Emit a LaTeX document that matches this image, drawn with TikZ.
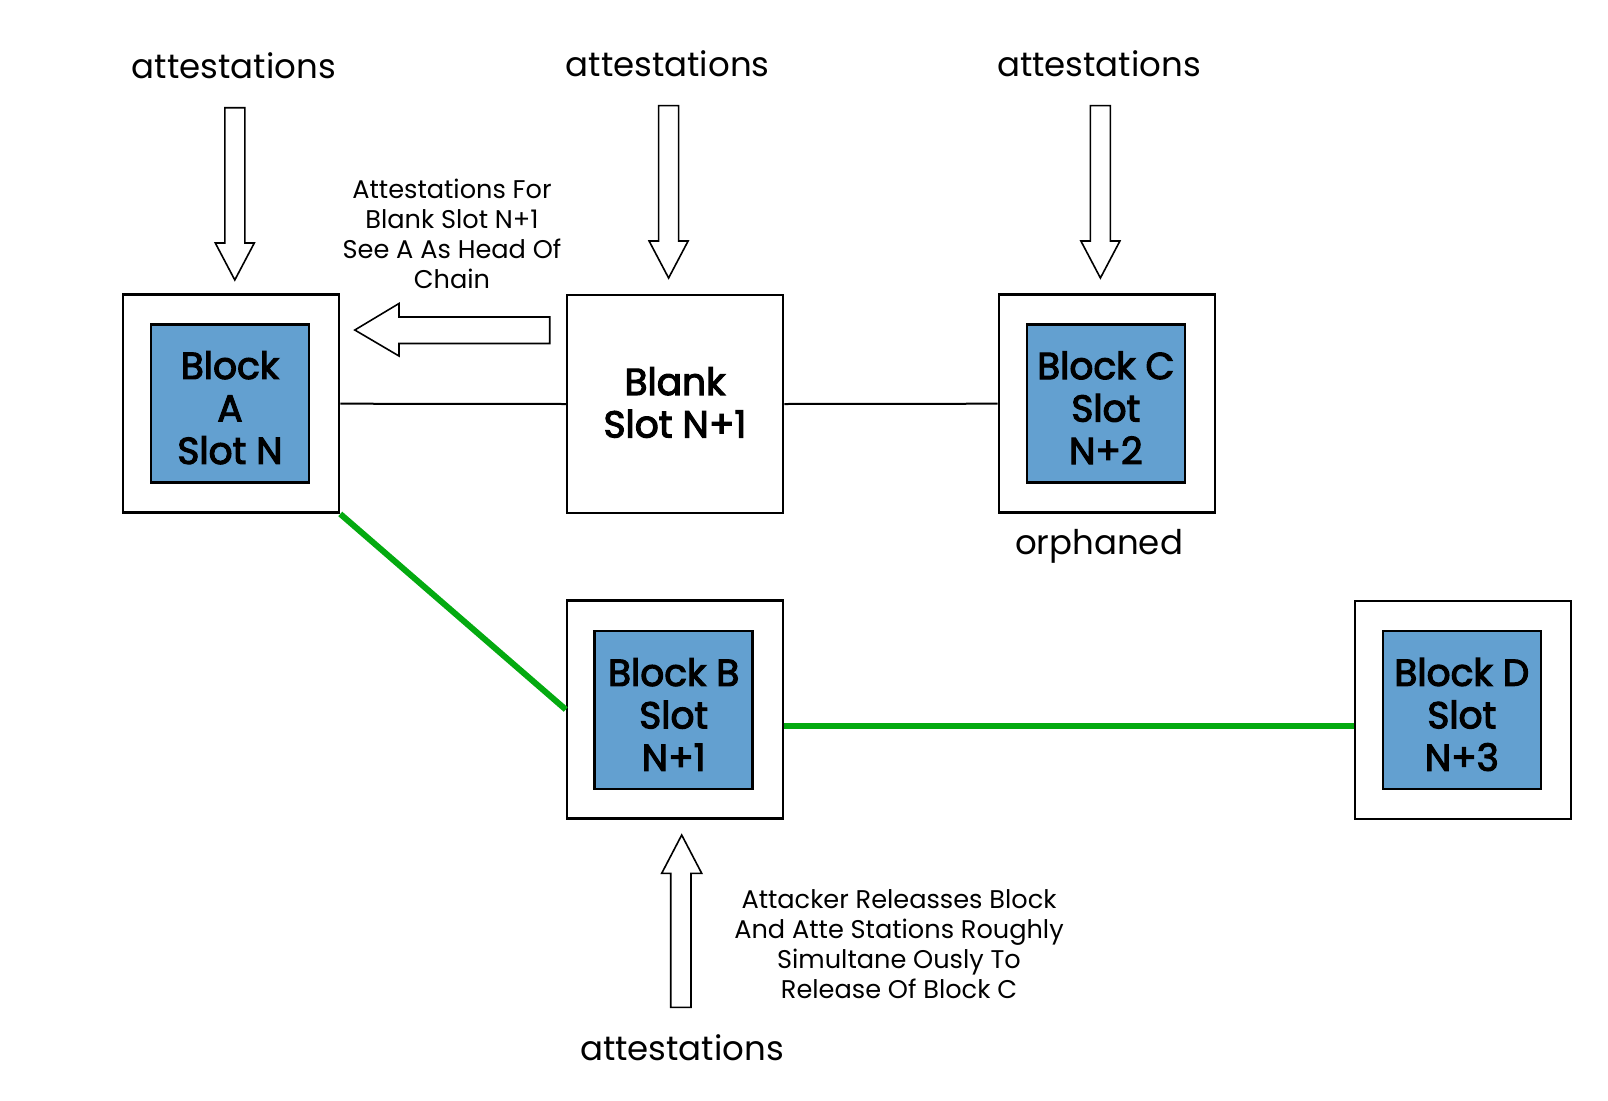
\documentclass[tikz,border=0pt]{standalone}
\usepackage{fontspec}
\setmainfont{Poppins}
\newfontfamily\blockfont{Poppins}[FakeBold=3]
\usetikzlibrary{calc}
\definecolor{blockblue}{RGB}{99,160,208}
\definecolor{chaingreen}{RGB}{4,170,16}
\tikzset{
  outerbox/.style={draw=black, line width=2.5pt, fill=white, minimum width=216pt, minimum height=218pt, inner sep=0pt},
  innerbox/.style={draw=black, line width=2.5pt, fill=blockblue, minimum width=158pt, minimum height=158pt, inner sep=0pt},
  blocklabel/.style={align=center, font=\blockfont\fontsize{37.5}{42.5}\selectfont},
  biglabel/.style={font=\fontsize{34}{40}\selectfont},
  smalllabel/.style={align=center, font=\fontsize{25.6}{30}\selectfont},
  blockarrow/.style={draw=black, line width=1.6pt, fill=white, line join=miter},
  link/.style={draw=black, line width=2pt},
  greenlink/.style={draw=chaingreen, line width=6pt}
}
\begin{document}
\begin{tikzpicture}[x=1pt,y=-1pt]
\useasboundingbox (0,0) rectangle (1608,1100);
% boxes
\node[outerbox] (A) at (231,403.7) {};
\node[innerbox] (Ai) at (230,403.7) {};
\node[blocklabel] (At) at (230,407.7) {Block\\A\\Slot N};
\node[outerbox] (Bl) at (675,404) {};
\node[blocklabel] (Blt) at (675,402.5) {Blank\\Slot N+1};
\node[outerbox] (C) at (1106.8,403.7) {};
\node[innerbox] (Ci) at (1105.8,403.5) {};
\node[blocklabel] (Ct) at (1105.8,407.7) {Block C\\Slot\\N+2};
\node[outerbox] (B) at (675,709.5) {};
\node[innerbox] (Bi) at (673.7,710) {};
\node[blocklabel] (Bt) at (673.7,714.5) {Block B\\Slot\\N+1};
\node[outerbox] (D) at (1462.8,709.8) {};
\node[innerbox] (Di) at (1461.8,710) {};
\node[blocklabel] (Dt) at (1461.8,714.5) {Block D\\Slot\\N+3};
% connectors
\draw[link] (A.east) -- (Bl.west);
\draw[link] (Bl.east) -- (C.west);
\draw[greenlink] (A.south east) -- (B.west);
\draw[greenlink] ($(B.east)+(0,16.2)$) coordinate (g1) -- (g1 -| D.west);
% labels
\node[biglabel] (t1) at (233.8,65.6) {attestations};
\node[biglabel] (t2) at (667.6,63.6) {attestations};
\node[biglabel] (t3) at (1099,63.6) {attestations};
\node[biglabel] (t4) at (682,1048) {attestations};
\node[biglabel] (orph) at (1099,546.6) {orphaned};
\node[smalllabel] (n1) at (452,233.5) {Attestations For\\Blank Slot N+1\\See A As Head Of\\Chain};
\node[smalllabel] (n2) at (899,944) {Attacker Releasses Block\\And Atte Stations Roughly\\Simultane Ously To\\Release Of Block C};
% block arrows
\foreach \cx/\t/\b in {234.8/107.7/280, 668.6/105.6/278, 1100.4/105.6/278}{
  \draw[blockarrow] (\cx-10,\t) -- (\cx+10,\t) -- (\cx+10,\b-37) -- (\cx+19.5,\b-37) -- (\cx,\b) -- (\cx-19.5,\b-37) -- (\cx-10,\b-37) -- cycle;
}
\draw[blockarrow] (549.7,317) -- (549.7,343.5) -- (399,343.5) -- (399,356) -- (354.8,330) -- (399,303.5) -- (399,317) -- cycle;
\draw[blockarrow] (670.7,1007.3) -- (691,1007.3) -- (691,873.3) -- (701.7,873.3) -- (681.7,835) -- (661.7,873.3) -- (670.7,873.3) -- cycle;
\end{tikzpicture}
\end{document}
